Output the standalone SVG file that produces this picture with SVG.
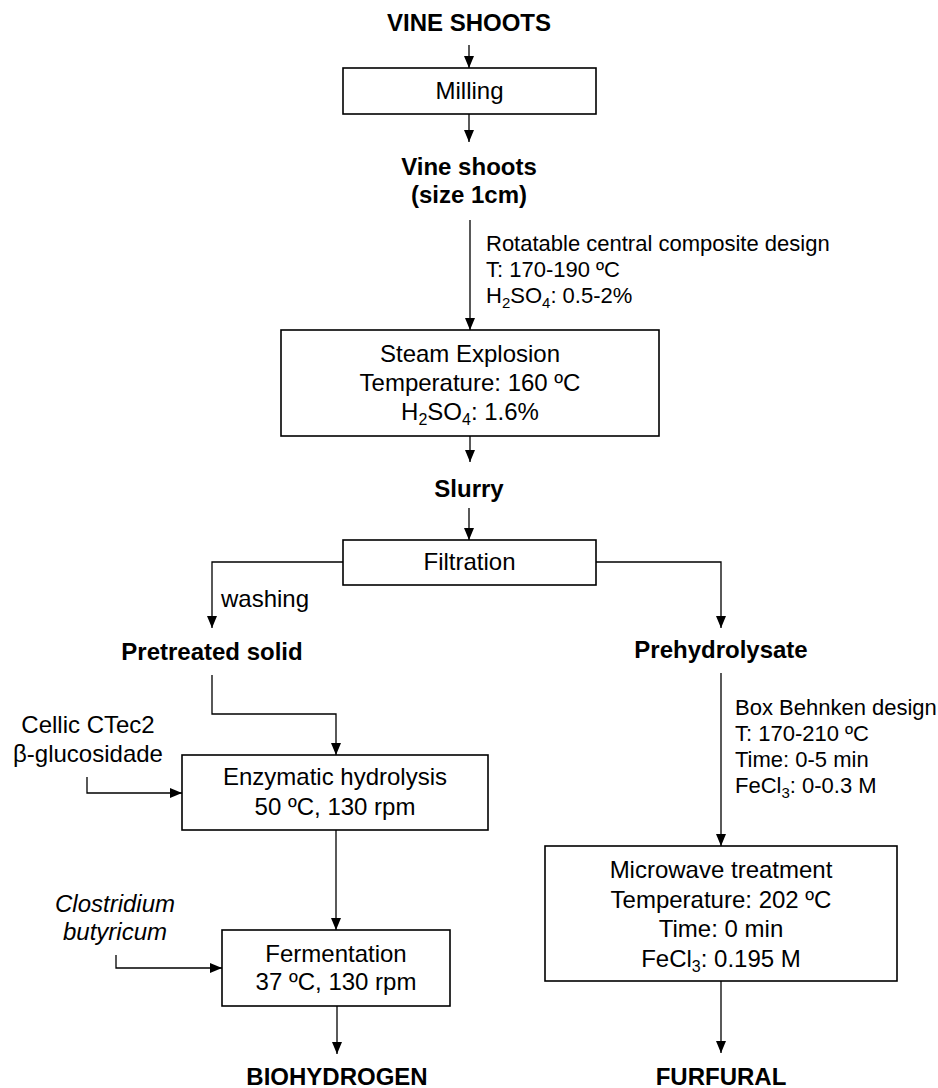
<svg xmlns="http://www.w3.org/2000/svg" width="938" height="1088" viewBox="0 0 938 1088">
<style>
.box{fill:#fff;stroke:#000;stroke-width:1.6}
.c{fill:none;stroke:#000;stroke-width:1.3}
text{font-family:"Liberation Sans",Arial,sans-serif;fill:#000}
.t{font-size:24px;text-anchor:middle}
.b{font-size:24px;font-weight:bold;text-anchor:middle}
.a{font-size:22px}
.s{font-size:24px}
.i{font-size:24px;font-style:italic;text-anchor:middle}
</style>
<defs>
<marker id="ar" viewBox="0 0 12 10" refX="12" refY="5" markerWidth="12" markerHeight="10" markerUnits="userSpaceOnUse" orient="auto">
<path d="M0,0 L12,5 L0,10 z" fill="#000"/>
</marker>
</defs>
<g id="connectors">
<path class="c" d="M469,45 V68" marker-end="url(#ar)"/>
<path class="c" d="M469,114 V142" marker-end="url(#ar)"/>
<path class="c" d="M470,220 V330" marker-end="url(#ar)"/>
<path class="c" d="M470,436 V462" marker-end="url(#ar)"/>
<path class="c" d="M469,508 V540" marker-end="url(#ar)"/>
<path class="c" d="M343,562 H212 V628" marker-end="url(#ar)"/>
<path class="c" d="M596,562 H721 V628" marker-end="url(#ar)"/>
<path class="c" d="M212,675 V714 H336 V755" marker-end="url(#ar)"/>
<path class="c" d="M87,777 V793 H182" marker-end="url(#ar)"/>
<path class="c" d="M336,830 V930" marker-end="url(#ar)"/>
<path class="c" d="M116,955 V968 H222" marker-end="url(#ar)"/>
<path class="c" d="M337,1006 V1054" marker-end="url(#ar)"/>
<path class="c" d="M721,673 V846" marker-end="url(#ar)"/>
<path class="c" d="M721,981 V1053" marker-end="url(#ar)"/>
</g>
<g id="vine-shoots-in"><text class="b" x="469" y="31">VINE SHOOTS</text></g>
<g id="milling"><rect class="box" x="343" y="68" width="253" height="46"/><text class="t" x="469.5" y="99">Milling</text></g>
<g id="vine-shoots-1cm"><text class="b" x="469" y="175">Vine shoots</text><text class="b" x="469" y="203">(size 1cm)</text></g>
<g id="rccd-note"><text class="a" x="486" y="251">Rotatable central composite design</text><text class="a" x="486" y="277">T: 170-190 ºC</text><text class="a" x="486" y="303">H<tspan font-size="15" dy="5">2</tspan><tspan dy="-5">SO</tspan><tspan font-size="15" dy="5">4</tspan><tspan dy="-5">: 0.5-2%</tspan></text></g>
<g id="steam-explosion"><rect class="box" x="281" y="330" width="378" height="106"/><text class="t" x="470" y="362">Steam Explosion</text><text class="t" x="470" y="391">Temperature: 160 ºC</text><text class="t" x="470" y="420">H<tspan font-size="16" dy="5">2</tspan><tspan dy="-5">SO</tspan><tspan font-size="16" dy="5">4</tspan><tspan dy="-5">: 1.6%</tspan></text></g>
<g id="slurry"><text class="b" x="469" y="497">Slurry</text></g>
<g id="filtration"><rect class="box" x="343" y="540" width="253" height="45"/><text class="t" x="469.5" y="570">Filtration</text></g>
<g id="washing-label"><text class="s" x="221" y="607">washing</text></g>
<g id="pretreated-solid"><text class="b" x="212" y="660">Pretreated solid</text></g>
<g id="prehydrolysate"><text class="b" x="721" y="658">Prehydrolysate</text></g>
<g id="enzymes"><text class="t" x="88" y="733">Cellic CTec2</text><text class="t" x="88" y="762">β-glucosidade</text></g>
<g id="enzymatic-hydrolysis"><rect class="box" x="182" y="755" width="306" height="75"/><text class="t" x="335" y="785">Enzymatic hydrolysis</text><text class="t" x="335" y="815">50 ºC, 130 rpm</text></g>
<g id="bbd-note"><text class="a" x="735" y="715">Box Behnken design</text><text class="a" x="735" y="741">T: 170-210 ºC</text><text class="a" x="735" y="767">Time: 0-5 min</text><text class="a" x="735" y="793">FeCl<tspan font-size="15" dy="5">3</tspan><tspan dy="-5">: 0-0.3 M</tspan></text></g>
<g id="microwave"><rect class="box" x="545" y="846" width="352" height="135"/><text class="t" x="721" y="878">Microwave treatment</text><text class="t" x="721" y="908">Temperature: 202 ºC</text><text class="t" x="721" y="937">Time: 0 min</text><text class="t" x="721" y="967">FeCl<tspan font-size="16" dy="5">3</tspan><tspan dy="-5">: 0.195 M</tspan></text></g>
<g id="clostridium"><text class="i" x="115" y="912">Clostridium</text><text class="i" x="115" y="940">butyricum</text></g>
<g id="fermentation"><rect class="box" x="222" y="930" width="228" height="76"/><text class="t" x="336" y="962">Fermentation</text><text class="t" x="336" y="990">37 ºC, 130 rpm</text></g>
<g id="biohydrogen"><text class="b" x="337" y="1085">BIOHYDROGEN</text></g>
<g id="furfural"><text class="b" x="721" y="1085">FURFURAL</text></g>
</svg>
